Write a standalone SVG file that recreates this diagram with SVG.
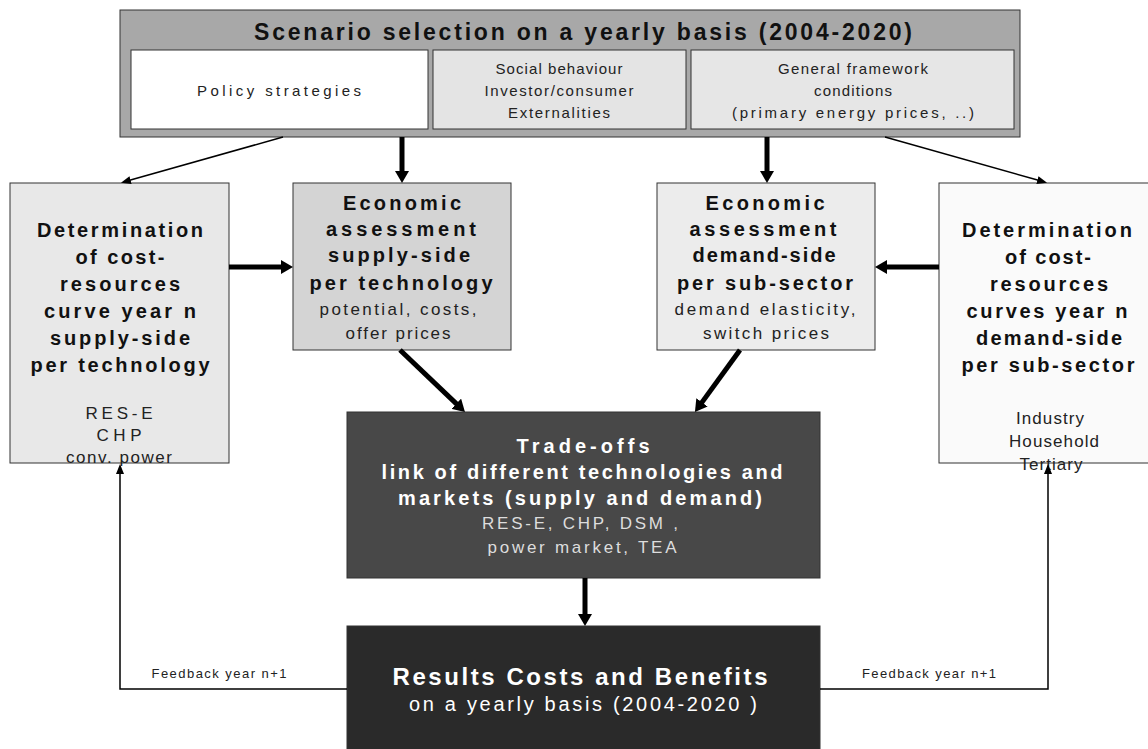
<svg xmlns="http://www.w3.org/2000/svg" width="1148" height="749" viewBox="0 0 1148 749">
<defs>
<style>
.b{font-family:"Liberation Sans",Arial,sans-serif;font-weight:bold;font-size:20px;text-anchor:middle;fill:#111}
.r{font-family:"Liberation Sans",Arial,sans-serif;font-size:17px;text-anchor:middle;fill:#222}
.n{font-family:"Liberation Sans",Arial,sans-serif;font-size:15px;text-anchor:middle;fill:#222}
.nb{font-family:"Liberation Sans",Arial,sans-serif;font-weight:bold;text-anchor:middle}
.fb{font-family:"Liberation Sans",Arial,sans-serif;font-size:13px;text-anchor:middle;fill:#222}
.sub{font-family:"Liberation Sans",Arial,sans-serif;font-size:20px;text-anchor:middle;fill:#fff}
.w{fill:#fff}
.box{stroke:#333;stroke-width:1}
.thick{stroke:#000;stroke-width:5;fill:none}
.thin{stroke:#000;stroke-width:1.5;fill:none}
</style>
<marker id="ah" viewBox="0 0 12 14" refX="1" refY="7" markerWidth="12" markerHeight="14" markerUnits="userSpaceOnUse" orient="auto"><path d="M0,0 L12,7 L0,14 z" fill="#000"/></marker>
<marker id="at" viewBox="0 0 10 8" refX="1" refY="4" markerWidth="10" markerHeight="8" markerUnits="userSpaceOnUse" orient="auto"><path d="M0,0 L10,4 L0,8 z" fill="#000"/></marker>
</defs>
<rect width="1148" height="749" fill="#fff"/>

<g id="scenario">
<rect class="box" x="120" y="10" width="900" height="127" fill="#a8a8a8" stroke="#555"/>
<text class="nb" x="583" y="40" font-size="23" fill="#111" textLength="658" lengthAdjust="spacing">Scenario selection on a yearly basis (2004-2020)</text>
</g>
<g id="policy">
<rect class="box" x="131" y="50" width="297" height="79" fill="#fff"/>
<text class="n" x="279" y="96" textLength="164" lengthAdjust="spacing">Policy strategies</text>
</g>
<g id="social">
<rect class="box" x="433" y="50" width="253" height="79" fill="#e4e4e4"/>
<text class="n" x="559" y="74" textLength="127" lengthAdjust="spacing">Social behaviour</text>
<text class="n" x="559" y="96" textLength="149" lengthAdjust="spacing">Investor/consumer</text>
<text class="n" x="559" y="118" textLength="102" lengthAdjust="spacing">Externalities</text>
</g>
<g id="framework">
<rect class="box" x="691" y="50" width="323" height="79" fill="#e6e6e6"/>
<text class="n" x="853" y="74" textLength="150" lengthAdjust="spacing">General framework</text>
<text class="n" x="853" y="96" textLength="78" lengthAdjust="spacing">conditions</text>
<text class="n" x="853" y="118" textLength="242" lengthAdjust="spacing">(primary energy prices, ..)</text>
</g>

<g id="supply-curve">
<rect class="box" x="10" y="183" width="219" height="280" fill="#e8e8e8"/>
<text class="b" x="120" y="237" textLength="166" lengthAdjust="spacing">Determination</text>
<text class="b" x="120" y="264" textLength="89" lengthAdjust="spacing">of cost-</text>
<text class="b" x="120" y="291" textLength="120" lengthAdjust="spacing">resources</text>
<text class="b" x="120" y="318" textLength="152" lengthAdjust="spacing">curve year n</text>
<text class="b" x="120" y="345" textLength="140" lengthAdjust="spacing">supply-side</text>
<text class="b" x="120" y="372" textLength="179" lengthAdjust="spacing">per technology</text>
<text class="r" x="119" y="419" textLength="67" lengthAdjust="spacing">RES-E</text>
<text class="r" x="119" y="441" textLength="45" lengthAdjust="spacing">CHP</text>
<text class="r" x="119" y="463" textLength="106" lengthAdjust="spacing">conv. power</text>
</g>

<g id="supply-econ">
<rect class="box" x="293" y="183" width="218" height="167" fill="#d4d4d4"/>
<text class="b" x="402" y="210" textLength="118" lengthAdjust="spacing">Economic</text>
<text class="b" x="401" y="236" textLength="150" lengthAdjust="spacing">assessment</text>
<text class="b" x="399" y="262" textLength="142" lengthAdjust="spacing">supply-side</text>
<text class="b" x="401" y="290" textLength="183" lengthAdjust="spacing">per technology</text>
<text class="r" x="398" y="315" textLength="157" lengthAdjust="spacing">potential, costs,</text>
<text class="r" x="398" y="339" textLength="105" lengthAdjust="spacing">offer prices</text>
</g>

<g id="demand-econ">
<rect class="box" x="657" y="183" width="218" height="167" fill="#ececec"/>
<text class="b" x="765" y="210" textLength="119" lengthAdjust="spacing">Economic</text>
<text class="b" x="763" y="236" textLength="147" lengthAdjust="spacing">assessment</text>
<text class="b" x="764" y="262" textLength="143" lengthAdjust="spacing">demand-side</text>
<text class="b" x="765" y="290" textLength="176" lengthAdjust="spacing">per sub-sector</text>
<text class="r" x="765" y="315" textLength="181" lengthAdjust="spacing">demand elasticity,</text>
<text class="r" x="766" y="339" textLength="126" lengthAdjust="spacing">switch prices</text>
</g>

<g id="demand-curve">
<rect class="box" x="939" y="183" width="215" height="280" fill="#fafafa"/>
<text class="b" x="1047" y="237" textLength="170" lengthAdjust="spacing">Determination</text>
<text class="b" x="1048" y="264" textLength="86" lengthAdjust="spacing">of cost-</text>
<text class="b" x="1049" y="291" textLength="118" lengthAdjust="spacing">resources</text>
<text class="b" x="1047" y="318" textLength="161" lengthAdjust="spacing">curves year n</text>
<text class="b" x="1049" y="345" textLength="146" lengthAdjust="spacing">demand-side</text>
<text class="b" x="1048" y="372" textLength="173" lengthAdjust="spacing">per sub-sector</text>
<text class="r" x="1050" y="424" textLength="68" lengthAdjust="spacing">Industry</text>
<text class="r" x="1054" y="447" textLength="90" lengthAdjust="spacing">Household</text>
<text class="r" x="1051" y="470" textLength="63" lengthAdjust="spacing">Tertiary</text>
</g>

<g id="tradeoffs">
<rect class="box" x="347" y="412" width="473" height="166" fill="#484848"/>
<text class="b w" x="583" y="453" textLength="133" lengthAdjust="spacing">Trade-offs</text>
<text class="b w" x="582" y="479" textLength="401" lengthAdjust="spacing">link of different technologies and</text>
<text class="b w" x="580" y="505" textLength="364" lengthAdjust="spacing">markets (supply and demand)</text>
<text class="r" x="580" y="529" style="fill:#ddd" textLength="196" lengthAdjust="spacing">RES-E, CHP, DSM ,</text>
<text class="r" x="582" y="553" style="fill:#ddd" textLength="189" lengthAdjust="spacing">power market, TEA</text>
</g>

<g id="results">
<rect class="box" x="347" y="626" width="473" height="130" fill="#2a2a2a"/>
<text class="nb" x="580" y="685" font-size="24" fill="#fff" textLength="375" lengthAdjust="spacing">Results Costs and Benefits</text>
<text class="sub" x="583" y="711" textLength="348" lengthAdjust="spacing">on a yearly basis (2004-2020 )</text>
</g>

<g id="feedback-labels">
<text class="fb" x="219" y="678" textLength="135" lengthAdjust="spacing">Feedback year n+1</text>
<text class="fb" x="929" y="678" textLength="134" lengthAdjust="spacing">Feedback year n+1</text>
</g>

<g id="connectors">
<line class="thin" x1="283" y1="137" x2="129.6" y2="180.3" marker-end="url(#at)"/>
<line class="thin" x1="885" y1="137" x2="1038.4" y2="180.3" marker-end="url(#at)"/>
<line class="thick" x1="402" y1="137" x2="402" y2="172" marker-end="url(#ah)"/>
<line class="thick" x1="767" y1="137" x2="767" y2="172" marker-end="url(#ah)"/>
<line class="thick" x1="229" y1="267" x2="282" y2="267" marker-end="url(#ah)"/>
<line class="thick" x1="939" y1="267" x2="886" y2="267" marker-end="url(#ah)"/>
<line class="thick" x1="400" y1="350" x2="457" y2="404.4" marker-end="url(#ah)"/>
<line class="thick" x1="740" y1="350" x2="701.4" y2="403.1" marker-end="url(#ah)"/>
<line class="thick" x1="585" y1="578" x2="585" y2="615" marker-end="url(#ah)"/>
<polyline class="thin" points="347,689 120,689 120,473" marker-end="url(#at)"/>
<polyline class="thin" points="820,689 1048,689 1048,473" marker-end="url(#at)"/>
</g>
</svg>
